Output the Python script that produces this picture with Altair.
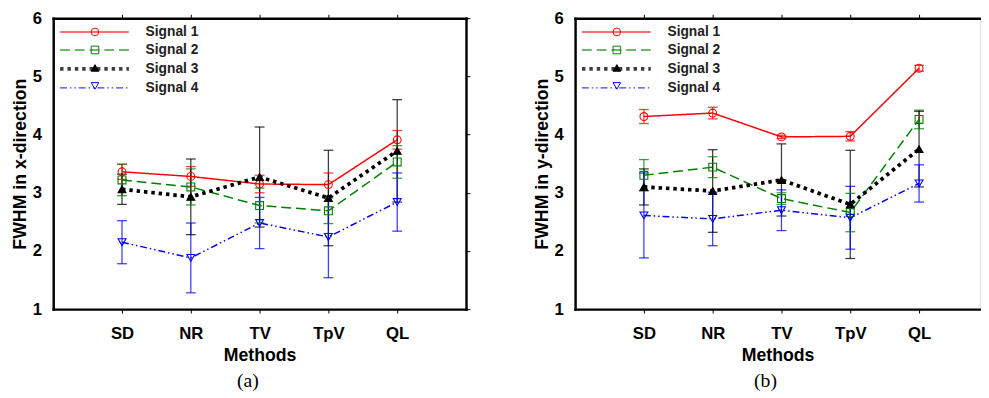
import altair as alt
import pandas as pd

methods = ["SD", "NR", "TV", "TpV", "QL"]
signals = ["Signal 1", "Signal 2", "Signal 3", "Signal 4"]

# FWHM in x-direction (means and half-length of error bars)
x_s1 = [3.36, 3.28, 3.15, 3.14, 3.91]
x_s2 = [3.22, 3.10, 2.78, 2.69, 3.53]
x_s3 = [3.06, 2.93, 3.27, 2.91, 3.72]
x_s4 = [2.15, 1.88, 2.48, 2.24, 2.84]
x_e1 = [0.13, 0.17, 0.15, 0.20, 0.16]
x_e2 = [0.27, 0.31, 0.30, 0.22, 0.28]
x_e3 = [0.26, 0.65, 0.86, 0.82, 0.88]
x_e4 = [0.37, 0.60, 0.44, 0.70, 0.50]

# FWHM in y-direction
y_s1 = [4.31, 4.37, 3.96, 3.97, 5.14]
y_s2 = [3.30, 3.44, 2.90, 2.66, 4.26]
y_s3 = [3.10, 3.03, 3.22, 2.80, 3.75]
y_s4 = [2.61, 2.55, 2.70, 2.57, 3.16]
y_e1 = [0.12, 0.10, 0.03, 0.08, 0.05]
y_e2 = [0.27, 0.18, 0.10, 0.33, 0.16]
y_e3 = [0.31, 0.71, 0.62, 0.93, 0.65]
y_e4 = [0.73, 0.46, 0.35, 0.54, 0.32]

colors = ["#ff0000", "#008000", "#000000", "#0000ff"]
dashes = [[1, 0], [10, 5], [3.5, 4], [7, 3, 1.5, 3, 1.5, 3]]
widths = [1.5, 1.5, 3.8, 1.5]
shapes = ["circle", "square", "triangle-up", "triangle-down"]
fills = ["transparent", "transparent", "#000000", "transparent"]

FONT = "Liberation Sans"


def build_df(means, errs):
    rows = []
    for s, m, e in zip(signals, means, errs):
        for i, (v, d) in enumerate(zip(m, e)):
            rows.append(dict(series=s, marker=s, idx=i + 1, mean=v, lo=v - d, hi=v + d))
    return pd.DataFrame(rows)


label_expr = "[''," + ",".join("'%s'" % m for m in methods) + "][datum.value]"


def panel(df, ytitle, ptitle, xmax, width, right_axis, dx):
    xs = alt.Scale(domain=[0, xmax], nice=False, zero=False)
    ys = alt.Scale(domain=[1, 6], nice=False, zero=False)
    cscale = alt.Scale(domain=signals, range=colors)
    base = alt.Chart(df)

    rules = base.mark_rule(opacity=0.75, strokeWidth=1.3).encode(
        x=alt.X("idx:Q", scale=xs, axis=None),
        y=alt.Y("lo:Q", scale=ys, axis=None),
        y2="hi:Q",
        color=alt.Color("series:N", scale=cscale),
    )
    cap_lo = base.mark_tick(orient="horizontal", size=10, thickness=1.3, opacity=0.75).encode(
        x=alt.X("idx:Q", scale=xs, axis=None),
        y=alt.Y("lo:Q", scale=ys, axis=None),
        color=alt.Color("series:N", scale=cscale),
    )
    cap_hi = base.mark_tick(orient="horizontal", size=10, thickness=1.3, opacity=0.75).encode(
        x=alt.X("idx:Q", scale=xs, axis=None),
        y=alt.Y("hi:Q", scale=ys, axis=None),
        color=alt.Color("series:N", scale=cscale),
    )

    axis_common = dict(domainColor="black", domainWidth=2.5, domainCap="square",
                       tickColor="black", tickWidth=1, grid=False,
                       labelFont=FONT, labelFontWeight="bold", labelFontSize=17,
                       labelColor="black", titleFont=FONT, titleFontWeight="bold",
                       titleFontSize=18, titleColor="black")

    lines = base.mark_line().encode(
        x=alt.X("idx:Q", scale=xs, axis=alt.Axis(orient="bottom", values=[1, 2, 3, 4, 5],
                                               labelExpr=label_expr, tickSize=4, labelPadding=13,
                                               title="Methods", titlePadding=5, **axis_common)),
        y=alt.Y("mean:Q", scale=ys, axis=alt.Axis(orient="left", values=[1, 2, 3, 4, 5, 6],
                                                format="d", tickSize=0, labelPadding=12,
                                                title=ytitle, titlePadding=3, **axis_common)),
        color=alt.Color("series:N", scale=cscale, legend=alt.Legend(
            orient="none", legendX=35, legendY=7, title=None, padding=0,
            symbolType="M-11.67,0H11.67", symbolSize=36,
            labelFont=FONT, labelFontSize=14, labelFontWeight="bold", labelColor="#222222",
            labelOffset=45, rowPadding=4.3)),
        strokeDash=alt.StrokeDash("series:N", scale=alt.Scale(domain=signals, range=dashes)),
        strokeWidth=alt.StrokeWidth("series:N", scale=alt.Scale(type="ordinal", domain=signals, range=widths)),
    )

    top_axis = alt.Axis(orient="top", values=[1, 2, 3, 4, 5], labels=False, tickSize=4,
                        title=None, **axis_common)
    if right_axis:
        y_axis2 = alt.Axis(orient="right", values=[1, 2, 3, 4, 5, 6], labels=False, tickSize=4,
                           title=None, **axis_common)
    else:
        y_axis2 = None

    points = base.mark_point(opacity=1, size=64, strokeWidth=1.1).encode(
        x=alt.X("idx:Q", scale=xs, axis=top_axis),
        y=alt.Y("mean:Q", scale=ys, axis=y_axis2),
        shape=alt.Shape("marker:N", scale=alt.Scale(range=shapes), legend=alt.Legend(
            orient="none", legendX=35.5, legendY=7, title=None, padding=0,
            symbolSize=60, symbolStrokeWidth=1,
            labelFont=FONT, labelFontSize=14, labelFontWeight="bold",
            labelColor="transparent", labelOffset=45, rowPadding=4.3)),
        stroke=alt.Stroke("marker:N", scale=alt.Scale(range=colors)),
        fill=alt.Fill("marker:N", scale=alt.Scale(range=fills)),
    )

    return alt.layer(rules, cap_lo, cap_hi, lines, points).resolve_axis(
        x="independent", y="independent"
    ).properties(
        width=width, height=296,
        title=alt.TitleParams(ptitle, orient="bottom", anchor="middle", frame="bounds",
                              font="Liberation Serif", fontSize=20, fontWeight="normal",
                              color="black", offset=7, dx=dx),
    )


left = panel(build_df([x_s1, x_s2, x_s3, x_s4], [x_e1, x_e2, x_e3, x_e4]),
             "FWHM in x-direction", "(a)", 6, 420, True, 7)
right = panel(build_df([y_s1, y_s2, y_s3, y_s4], [y_e1, y_e2, y_e3, y_e4]),
              "FWHM in y-direction", "(b)", 5.886, 412, False, 9)

chart = alt.hconcat(left, right, spacing=63).resolve_scale(
    color="independent", strokeDash="independent", strokeWidth="independent",
    shape="independent", stroke="independent", fill="independent"
).resolve_legend(
    color="independent", strokeDash="independent", strokeWidth="independent",
    shape="independent", stroke="independent", fill="independent"
).properties(
    padding={"left": 3, "top": -3, "right": 0, "bottom": 0}
).configure_view(stroke=None).configure(background="white")

chart.save("out.html", embed_options={"renderer": "svg", "actions": False})
